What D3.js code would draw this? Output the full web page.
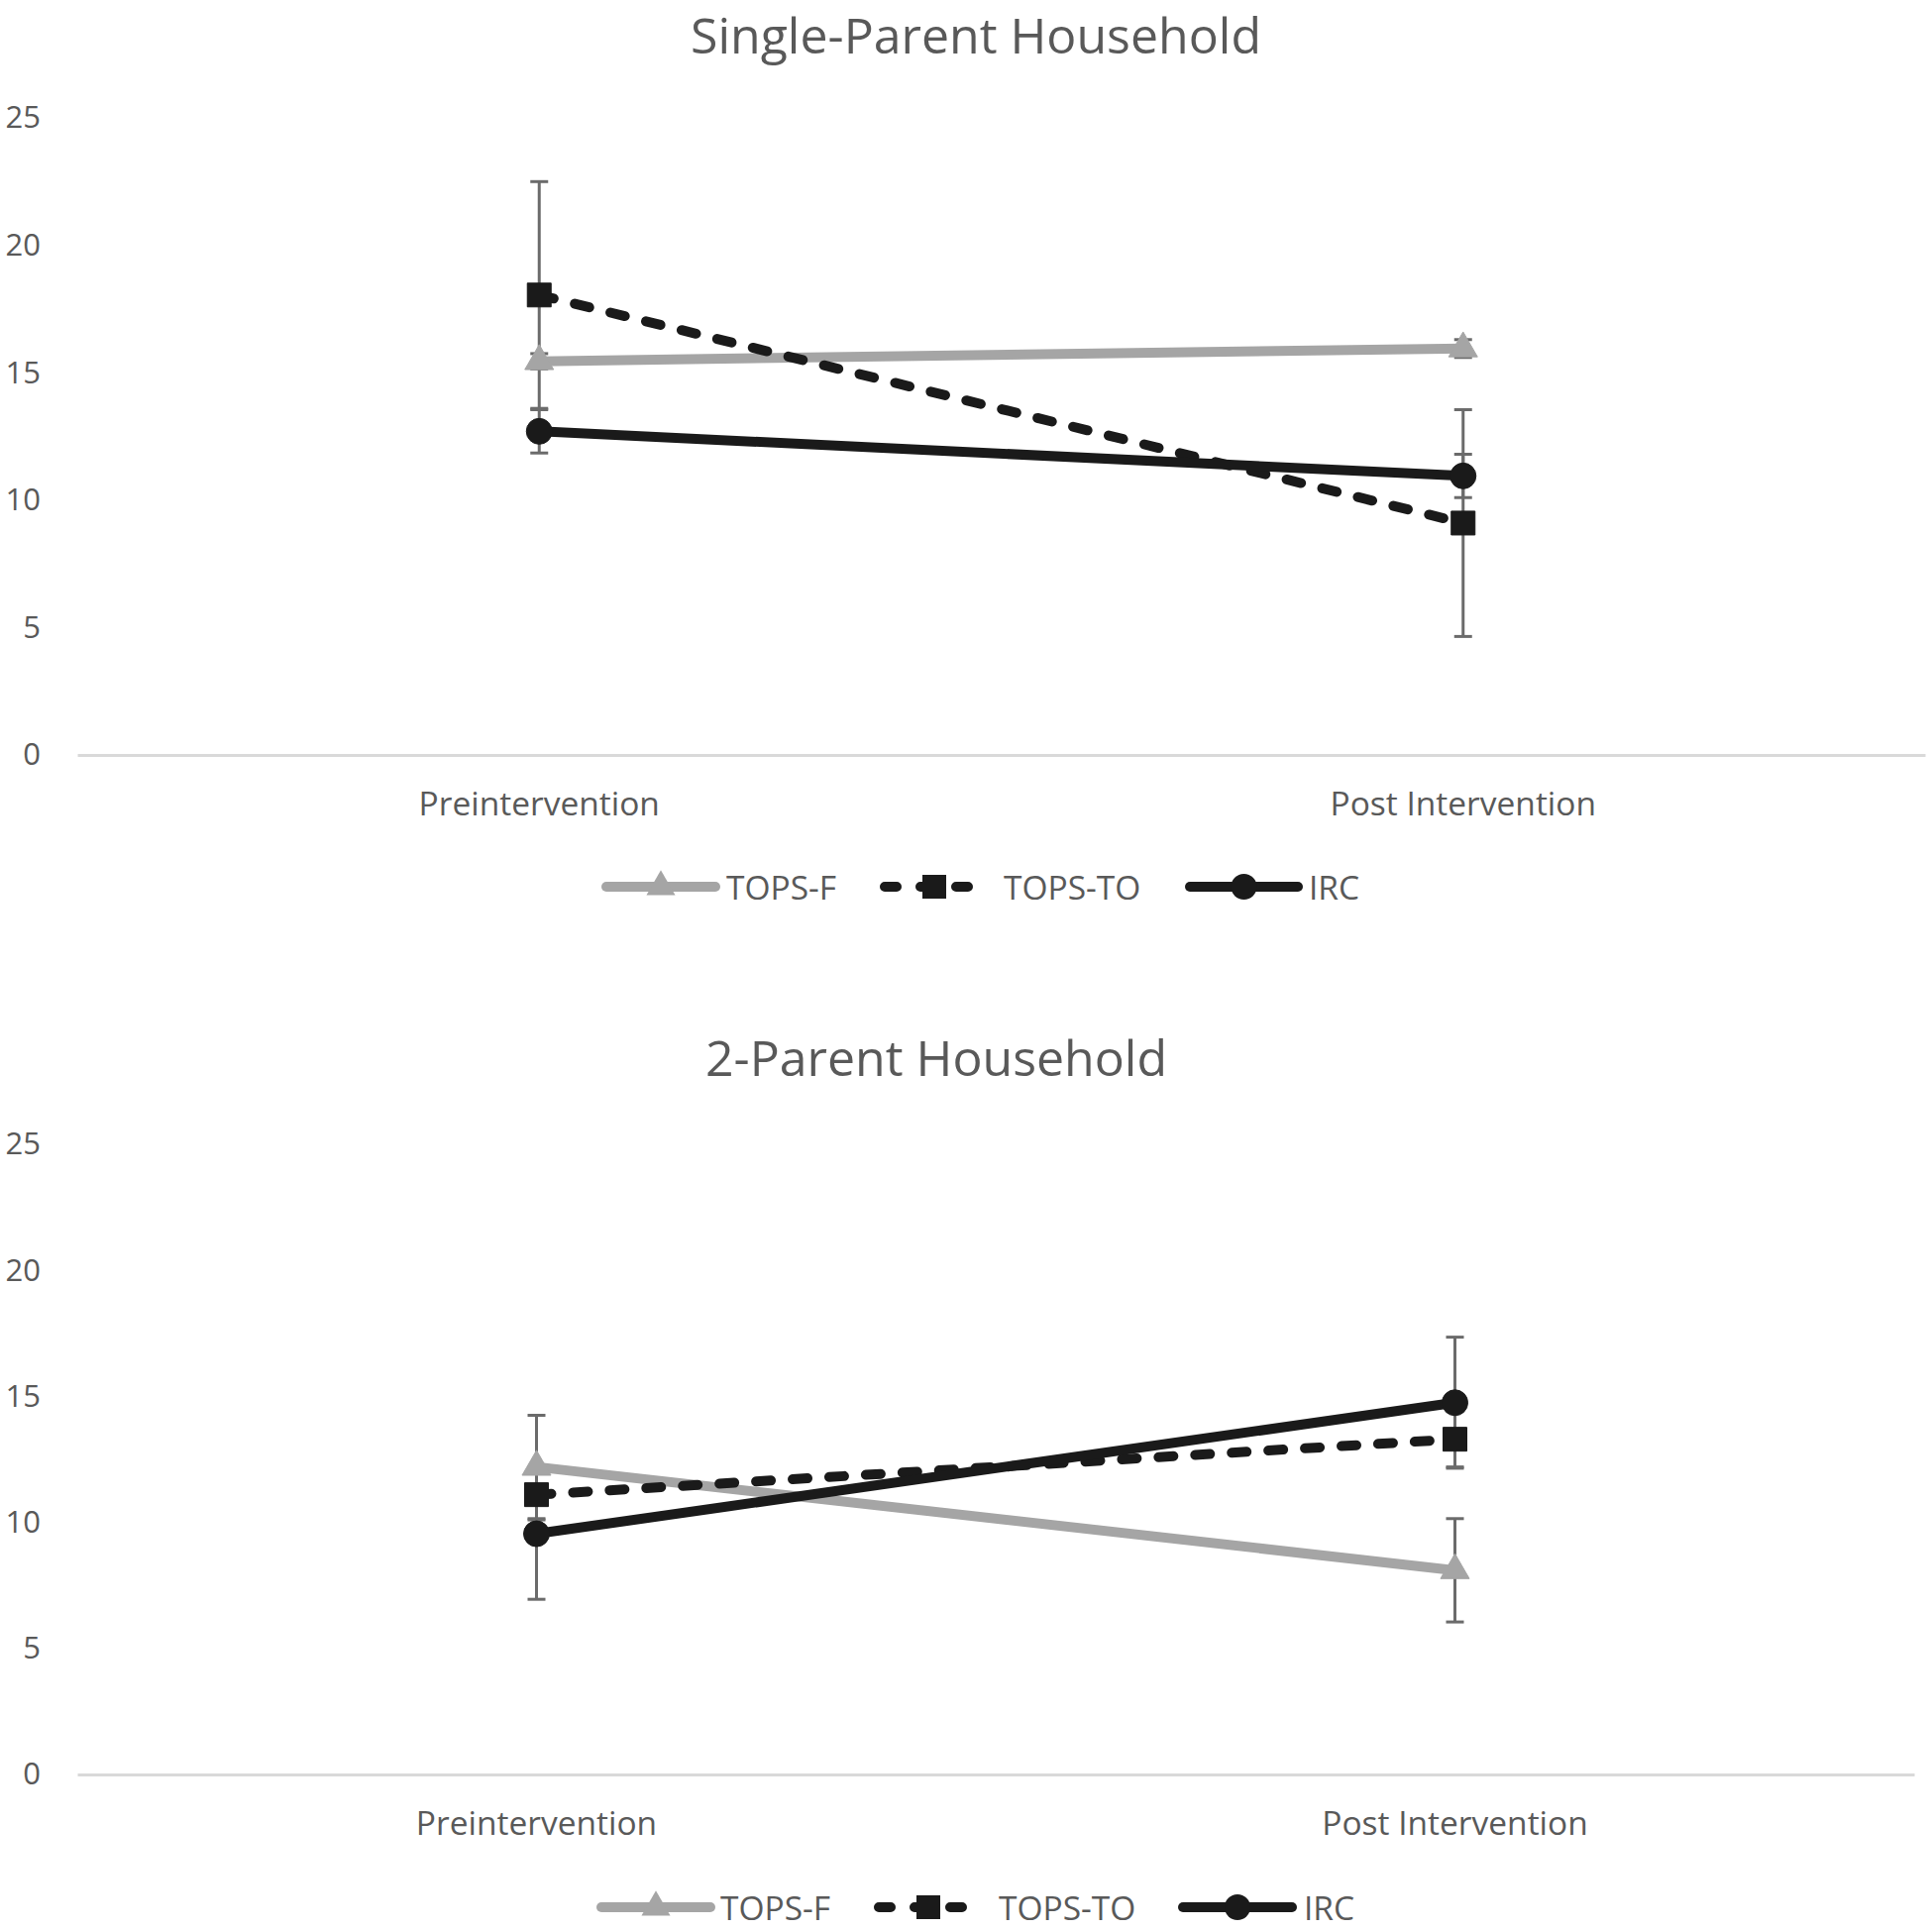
<!DOCTYPE html>
<html>
<head>
<meta charset="utf-8">
<script src="https://cdn.jsdelivr.net/npm/d3@7"></script>
<style>
  body { margin: 0; background: #fff; }
  text { font-family: "Open Sans", sans-serif; fill: #595959; }
</style>
</head>
<body>
<div id="chart"></div>
<script>
// Categories, series and tick labels
const categories = ["Preintervention", "Post Intervention"];
const seriesNames = ["TOPS-F", "TOPS-TO", "IRC"];
const yTicks = [0, 5, 10, 15, 20, 25];

// Single-parent household: means and error (+/-)
const singleTopsF = [15.45, 15.95];
const singleTopsFErr = [0.3, 0.35];
const singleTopsTO = [18.05, 9.1];
const singleTopsTOErr = [4.45, 4.45];
const singleIRC = [12.7, 10.95];
const singleIRCErr = [0.85, 0.85];

// 2-parent household
const twoTopsF = [12.2, 8.1];
const twoTopsFErr = [2.05, 2.05];
const twoTopsTO = [11.1, 13.3];
const twoTopsTOErr = [1.0, 1.1];
const twoIRC = [9.55, 14.75];
const twoIRCErr = [2.6, 2.6];

const styles = {
    "TOPS-F": { color: "#a5a5a5", dash: null, marker: d3.symbolTriangle },
    "TOPS-TO": { color: "#1a1a1a", dash: "15 22", marker: d3.symbolSquare },
    "IRC": { color: "#1a1a1a", dash: null, marker: d3.symbolCircle }
};

const svg = d3.select("#chart")
    .append("svg")
    .attr("width", 1950)
    .attr("height", 1949);

function markerSize(name) {
    // area for d3.symbol so that the markers are ~25px across
    if (name === "TOPS-F") return 26 * 26 * Math.sqrt(3) / 4 * 1.25;
    if (name === "TOPS-TO") return 24 * 24;
    return Math.PI * 13 * 13;
}

function drawPanel(cfg) {
    const g = svg.append("g");

    const x = d3.scaleBand()
        .domain(categories)
        .range([cfg.left, cfg.right]);

    const y = d3.scaleLinear()
        .domain([0, 25])
        .range([cfg.bottom, cfg.top]);

    const cx = d => x(d) + x.bandwidth() / 2;

    // Title
    g.append("text")
        .attr("x", cfg.titleX)
        .attr("y", cfg.titleY)
        .attr("text-anchor", "middle")
        .attr("dominant-baseline", "central")
        .style("font-size", "50px")
        .text(cfg.title);

    // Y axis labels
    const yAxis = g.append("g")
        .attr("transform", `translate(${cfg.left},0)`)
        .call(d3.axisLeft(y).tickValues(yTicks).tickSize(0).tickPadding(37));
    yAxis.select(".domain").remove();
    yAxis.selectAll("text")
        .style("font-size", "31px")
        .style("font-family", "'Open Sans', sans-serif")
        .attr("fill", "#595959");

    // X axis
    const xAxis = g.append("g")
        .attr("transform", `translate(0,${cfg.bottom})`)
        .call(d3.axisBottom(x).tickSize(0).tickSizeOuter(0).tickPadding(37));
    xAxis.select(".domain")
        .attr("stroke", "#d9d9d9")
        .attr("stroke-width", 3);
    xAxis.selectAll("text")
        .style("font-size", "33.5px")
        .style("font-family", "'Open Sans', sans-serif")
        .attr("fill", "#595959");

    // Error bars
    cfg.series.forEach(s => {
        s.values.forEach((v, i) => {
            const xc = cx(categories[i]);
            const lo = y(v - s.err[i]);
            const hi = y(v + s.err[i]);
            g.append("line")
                .attr("x1", xc).attr("x2", xc)
                .attr("y1", lo).attr("y2", hi)
                .attr("stroke", "#6b6b6b").attr("stroke-width", 3);
            [lo, hi].forEach(yy => {
                g.append("line")
                    .attr("x1", xc - 9).attr("x2", xc + 9)
                    .attr("y1", yy).attr("y2", yy)
                    .attr("stroke", "#6b6b6b").attr("stroke-width", 3);
            });
        });
    });

    // Lines and markers
    const line = d3.line()
        .x((d, i) => cx(categories[i]))
        .y(d => y(d));

    cfg.series.forEach(s => {
        const st = styles[s.name];
        g.append("path")
            .datum(s.values)
            .attr("d", line)
            .attr("fill", "none")
            .attr("stroke", st.color)
            .attr("stroke-width", 10)
            .attr("stroke-linecap", st.dash ? "round" : "butt")
            .attr("stroke-dasharray", st.dash);
    });

    cfg.series.forEach(s => {
        const st = styles[s.name];
        g.selectAll(null)
            .data(s.values)
            .enter()
            .append("path")
            .attr("d", d3.symbol().type(st.marker).size(markerSize(s.name)))
            .attr("transform", (d, i) => `translate(${cx(categories[i])},${y(d)})`)
            .attr("fill", st.color)
            .attr("stroke", st.color)
            .attr("stroke-width", 1)
            .attr("stroke-linejoin", "round");
    });

    // Legend
    const legend = g.append("g");
    cfg.legend.forEach((item, k) => {
        const st = styles[seriesNames[k]];
        legend.append("line")
            .attr("x1", item.x1).attr("x2", item.x2)
            .attr("y1", cfg.legendY).attr("y2", cfg.legendY)
            .attr("stroke", st.color)
            .attr("stroke-width", 10)
            .attr("stroke-linecap", "round")
            .attr("stroke-dasharray", st.dash ? "12 24" : null);
        legend.append("path")
            .attr("d", d3.symbol().type(st.marker).size(markerSize(seriesNames[k])))
            .attr("transform", `translate(${(item.x1 + item.x2) / 2},${cfg.legendY})`)
            .attr("fill", st.color);
        legend.append("text")
            .attr("x", item.tx)
            .attr("y", cfg.legendY)
            .attr("dominant-baseline", "central")
            .style("font-size", "33.5px")
            .text(seriesNames[k]);
    });
}

drawPanel({
    title: "Single-Parent Household",
    titleX: 985, titleY: 35,
    left: 78, right: 1943, top: 119, bottom: 762,
    legendY: 895,
    legend: [
        { x1: 612, x2: 722, tx: 733 },
        { x1: 893, x2: 993, tx: 1013 },
        { x1: 1201, x2: 1310, tx: 1321 }
    ],
    series: [
        { name: "TOPS-F", values: singleTopsF, err: singleTopsFErr },
        { name: "TOPS-TO", values: singleTopsTO, err: singleTopsTOErr },
        { name: "IRC", values: singleIRC, err: singleIRCErr }
    ]
});

drawPanel({
    title: "2-Parent Household",
    titleX: 945, titleY: 1067,
    left: 78, right: 1932, top: 1155, bottom: 1791,
    legendY: 1925,
    legend: [
        { x1: 607, x2: 717, tx: 727 },
        { x1: 887, x2: 987, tx: 1008 },
        { x1: 1194, x2: 1304, tx: 1316 }
    ],
    series: [
        { name: "TOPS-F", values: twoTopsF, err: twoTopsFErr },
        { name: "TOPS-TO", values: twoTopsTO, err: twoTopsTOErr },
        { name: "IRC", values: twoIRC, err: twoIRCErr }
    ]
});
</script>
</body>
</html>
